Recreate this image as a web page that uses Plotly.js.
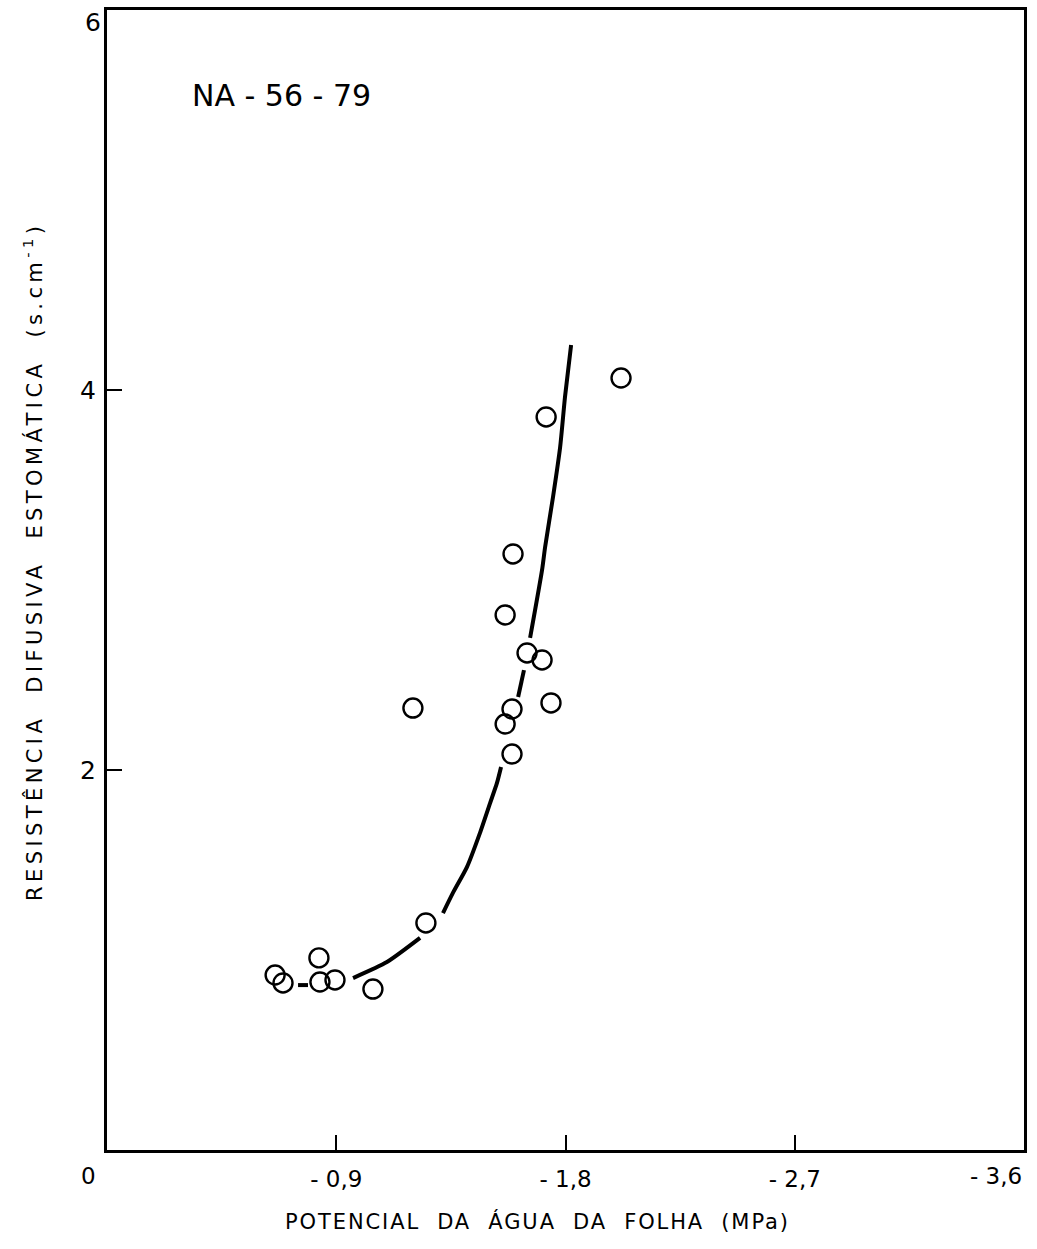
<!DOCTYPE html>
<html>
<head>
<meta charset="utf-8">
<script src="https://cdn.plot.ly/plotly-3.0.1.min.js"></script>
<style>
  html, body { margin: 0; padding: 0; background: #fff; }
  #chart { width: 1037px; height: 1249px; }
</style>
</head>
<body>
<div id="chart"></div>
<script>
// Leaf water potential (MPa) and stomatal diffusive resistance (s/cm), genotype NA-56-79
const potencial = [-0.660, -0.691, -0.832, -0.836, -0.895, -1.044, -1.252, -1.201, -1.590,
                   -1.563, -1.590, -1.743, -1.649, -1.708, -1.563, -1.594, -1.724, -2.018];
const resistencia = [0.921, 0.879, 1.011, 0.884, 0.895, 0.847, 1.195, 2.326, 2.084,
                     2.242, 2.321, 2.353, 2.616, 2.579, 2.816, 3.137, 3.858, 4.063];

// Fitted curve, drawn as broken segments (null separates segments)
const curvaX = [-0.750, -0.789, null,
                -0.966, -1.099, -1.229, null,
                -1.319, -1.358, -1.413, -1.464, -1.504, -1.531, -1.547, null,
                -1.614, -1.637, null,
                -1.661, -1.708, -1.720, -1.751, -1.779, -1.798, -1.822];
const curvaY = [0.868, 0.868, null,
                0.905, 0.989, 1.116, null,
                1.247, 1.353, 1.489, 1.668, 1.826, 1.932, 2.016, null,
                2.384, 2.526, null,
                2.695, 3.053, 3.174, 3.437, 3.700, 3.963, 4.237];

const xTickVals = [-0.9, -1.8, -2.7];
const xTickText = ['- 0,9', '- 1,8', '- 2,7'];
const yTickVals = [2, 4];
const yTickText = ['2', '4'];

const tituloX = 'POTENCIAL  DA  ÁGUA  DA  FOLHA  (MPa)';
const tituloY = 'RESISTÊNCIA  DIFUSIVA  ESTOMÁTICA  (s.cm<sup>-1</sup>)';
const rotulo = 'NA - 56 - 79';

const fonte = 'DejaVu Sans, Liberation Sans, sans-serif';

const traces = [
  {
    x: curvaX, y: curvaY,
    type: 'scatter', mode: 'lines',
    connectgaps: false,
    line: { color: '#000', width: 4, shape: 'spline', smoothing: 0.6 },
    hoverinfo: 'skip', showlegend: false
  },
  {
    x: potencial, y: resistencia,
    type: 'scatter', mode: 'markers',
    marker: { symbol: 'circle-open', size: 19, color: '#000', line: { width: 2.4, color: '#000' } },
    showlegend: false
  }
];

const layout = {
  width: 1037, height: 1249,
  paper_bgcolor: '#fff', plot_bgcolor: '#fff',
  margin: { l: 107, r: 13, t: 10, b: 99 },
  font: { family: fonte, color: '#000' },
  showlegend: false,
  xaxis: {
    range: [0, -3.6],
    tickvals: xTickVals, ticktext: xTickText,
    ticks: 'inside', ticklen: 15, tickwidth: 2, tickcolor: '#000',
    ticklabelstandoff: 6,
    showline: true, mirror: true, linecolor: '#000', linewidth: 3,
    showgrid: false, zeroline: false,
    tickfont: { size: 23, family: fonte, color: '#000' }
  },
  yaxis: {
    range: [0, 6],
    tickvals: yTickVals, ticktext: yTickText,
    ticks: 'inside', ticklen: 15, tickwidth: 2, tickcolor: '#000',
    ticklabelstandoff: 3,
    showline: true, mirror: true, linecolor: '#000', linewidth: 3,
    showgrid: false, zeroline: false,
    tickfont: { size: 25, family: fonte, color: '#000' }
  },
  annotations: [
    // axis titles
    { x: 0.470, y: -0.063, xref: 'paper', yref: 'paper', showarrow: false,
      text: '<span style="letter-spacing:1.9px">' + tituloX + '</span>',
      xanchor: 'center', yanchor: 'middle',
      font: { size: 21, family: fonte, color: '#000' } },
    { x: -0.0807, y: 0.5167, xref: 'paper', yref: 'paper', showarrow: false,
      text: '<span style="letter-spacing:4.4px">' + tituloY + '</span>',
      textangle: -90, xanchor: 'center', yanchor: 'middle',
      font: { size: 21, family: fonte, color: '#000' } },
    // origin and end tick labels
    { x: 0, y: 0, xref: 'x', yref: 'y', text: '0', showarrow: false,
      xshift: -19, yshift: -26, font: { size: 23, family: fonte, color: '#000' } },
    { x: 0, y: 6, xref: 'x', yref: 'y', text: '6', showarrow: false,
      xshift: -14, yshift: -12, font: { size: 25, family: fonte, color: '#000' } },
    { x: -3.6, y: 0, xref: 'x', yref: 'y', text: '- 3,6', showarrow: false,
      xanchor: 'right', xshift: 0, yshift: -26, font: { size: 23, family: fonte, color: '#000' } },
    // genotype label
    { x: 0.09, y: 0.925, xref: 'paper', yref: 'paper', text: rotulo, showarrow: false,
      xanchor: 'left', yanchor: 'middle', font: { size: 30, family: fonte, color: '#000' } }
  ]
};

Plotly.newPlot('chart', traces, layout, { staticPlot: true, displayModeBar: false });
</script>
</body>
</html>
